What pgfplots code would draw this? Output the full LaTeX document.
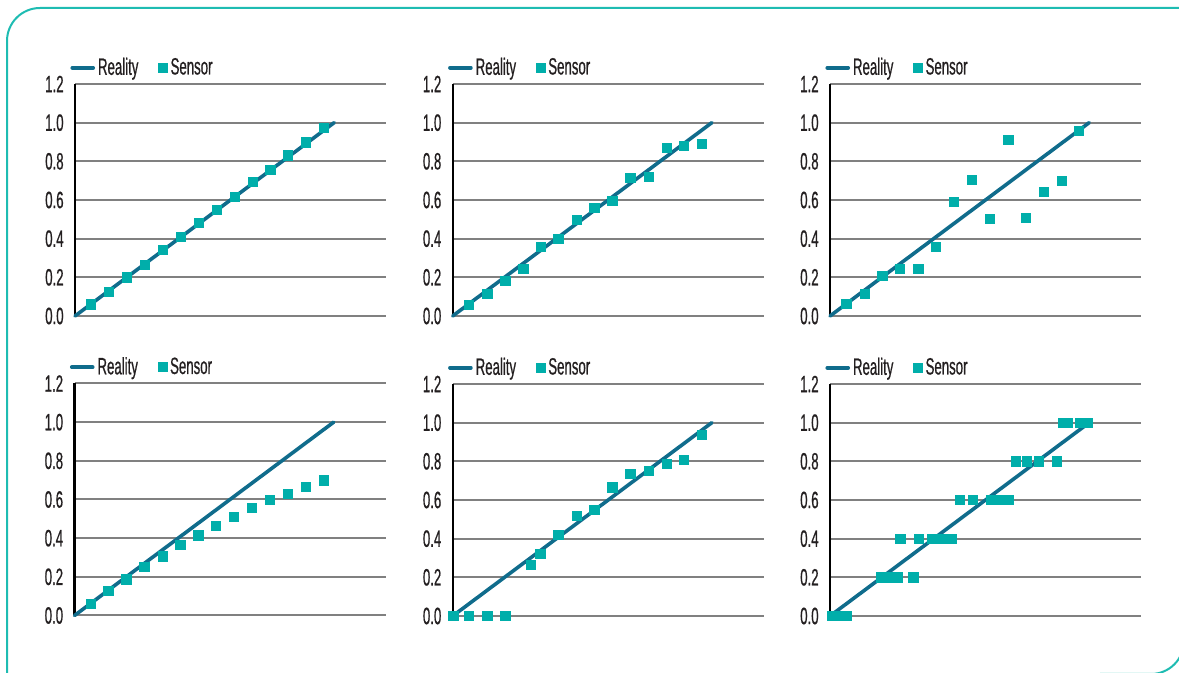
\documentclass[border=0pt]{standalone}
\usepackage{fontspec}
\setmainfont{Liberation Sans}[FakeStretch=0.56, FakeBold=0.6]
\usepackage{pgfplots}
\pgfplotsset{compat=1.18}
\definecolor{realc}{RGB}{16,108,140}
\definecolor{sensc}{RGB}{0,174,170}
\definecolor{framec}{RGB}{30,188,178}
\definecolor{gridc}{RGB}{128,128,128}
\definecolor{txtc}{RGB}{35,31,32}
\pgfplotsset{
  panel/.style={
    scale only axis, width=155.5pt, height=116pt,
    xmin=0, xmax=1.2, ymin=0, ymax=1.2,
    xtick=\empty, ytick={0,0.2,0.4,0.6,0.8,1.0,1.2},
    axis x line=none, axis y line=left,
    y axis line style={black, line width=1.2pt, -},
    ymajorgrids, grid style={gridc, line width=1pt},
    major tick length=0pt,
    clip=false,
    yticklabel style={inner sep=0pt, xshift=-5.5pt, font=\fontsize{11.8}{13}\selectfont, text=txtc},
    /pgf/number format/.cd, fixed, fixed zerofill, precision=1, assume math mode=true,
    /pgfplots/.cd,
    legend columns=2,
    legend style={at={(-0.016,1.07)}, anchor=west, draw=none, fill=none, inner sep=0pt,
      font=\fontsize{11.8}{13}\selectfont, text=txtc,
      nodes={inner sep=1.5pt},
      /tikz/every even column/.append style={column sep=8.5pt}},
  },
  reality/.style={realc, line width=1.8pt, line cap=round,
    legend image code/.code={\draw[##1, line cap=round] (0pt,0pt) -- (10.5pt,0pt);}},
  sensor/.style={only marks, mark=square*, mark size=2.3pt, mark options={sensc, draw=sensc, fill=sensc},
    legend image code/.code={\draw[mark repeat=2, mark phase=2, ##1] plot coordinates {(0pt,0pt) (4.5pt,0pt) (9pt,0pt)};}},
}
\begin{document}
\begin{tikzpicture}
\useasboundingbox (0pt,0pt) rectangle (589.5pt,-336.5pt);
\begin{scope}
\clip (0pt,0pt) rectangle (589.5pt,-336.5pt);
\draw[framec, line width=1pt] (3.5pt,-345pt) -- (3.5pt,-20.5pt) arc[start angle=180, end angle=90, radius=16.5pt] -- (600pt,-4pt);
\draw[framec, line width=1pt] (592pt,-300pt) -- (592pt,-320.5pt) arc[start angle=0, end angle=-90, radius=16.5pt] -- (550pt,-337pt);
\end{scope}

% Panel 1
\begin{axis}[panel, at={(37.5pt,-158pt)}]
\addplot[reality] coordinates {(0,0) (1,1)};
\addlegendentry{Reality}
\addplot[sensor] coordinates {(0.062,0.060) (0.131,0.126) (0.200,0.200) (0.270,0.266) (0.340,0.340) (0.409,0.408) (0.478,0.480) (0.547,0.548) (0.616,0.618) (0.685,0.693) (0.754,0.756) (0.823,0.831) (0.892,0.898) (0.961,0.972)};
\addlegendentry{Sensor}
\end{axis}

% Panel 2
\begin{axis}[panel, at={(226.35pt,-158pt)}]
\addplot[reality] coordinates {(0,0) (1,1)};
\addlegendentry{Reality}
\addplot[sensor] coordinates {(0.064,0.057) (0.134,0.114) (0.203,0.183) (0.273,0.242) (0.340,0.356) (0.408,0.398) (0.479,0.497) (0.547,0.559) (0.616,0.597) (0.686,0.716) (0.756,0.721) (0.825,0.870) (0.893,0.881) (0.963,0.891)};
\addlegendentry{Sensor}
\end{axis}

% Panel 3
\begin{axis}[panel, at={(415pt,-158pt)}]
\addplot[reality] coordinates {(0,0) (1,1)};
\addlegendentry{Reality}
\addplot[sensor] coordinates {(0.063,0.061) (0.134,0.114) (0.202,0.206) (0.271,0.242) (0.341,0.242) (0.410,0.356) (0.479,0.590) (0.549,0.704) (0.618,0.502) (0.688,0.912) (0.757,0.507) (0.826,0.642) (0.896,0.699) (0.961,0.958)};
\addlegendentry{Sensor}
\end{axis}

% Panel 4
\begin{axis}[panel, at={(37.25pt,-307.75pt)}]
\addplot[reality] coordinates {(0,0) (1,1)};
\addlegendentry{Reality}
\addplot[sensor] coordinates {(0.062,0.058) (0.131,0.127) (0.200,0.187) (0.270,0.251) (0.340,0.306) (0.409,0.364) (0.478,0.414) (0.547,0.462) (0.616,0.509) (0.685,0.555) (0.754,0.597) (0.823,0.631) (0.892,0.667) (0.961,0.699)};
\addlegendentry{Sensor}
\end{axis}

% Panel 5
\begin{axis}[panel, at={(226.35pt,-308pt)}]
\addplot[reality] coordinates {(0,0) (1,1)};
\addlegendentry{Reality}
\addplot[sensor] coordinates {(0.003,0) (0.064,0) (0.134,0) (0.203,0) (0.301,0.266) (0.338,0.322) (0.408,0.420) (0.479,0.516) (0.547,0.549) (0.616,0.665) (0.686,0.734) (0.756,0.751) (0.825,0.786) (0.893,0.808) (0.963,0.935)};
\addlegendentry{Sensor}
\end{axis}

% Panel 6
\begin{axis}[panel, at={(415pt,-308pt)}]
\addplot[reality] coordinates {(0,0) (1,1)};
\addlegendentry{Reality}
\addplot[sensor] coordinates {(0.007,0) (0.026,0) (0.045,0) (0.063,0)
 (0.196,0.2) (0.217,0.2) (0.238,0.2) (0.260,0.2) (0.322,0.2)
 (0.272,0.4) (0.342,0.4) (0.392,0.4) (0.411,0.4) (0.430,0.4) (0.469,0.4)
 (0.500,0.6) (0.550,0.6) (0.620,0.6) (0.659,0.6) (0.688,0.6)
 (0.716,0.8) (0.759,0.8) (0.805,0.8) (0.875,0.8)
 (0.898,1.0) (0.916,1.0) (0.964,1.0) (0.993,1.0)};
\addlegendentry{Sensor}
\end{axis}
\end{tikzpicture}
\end{document}
